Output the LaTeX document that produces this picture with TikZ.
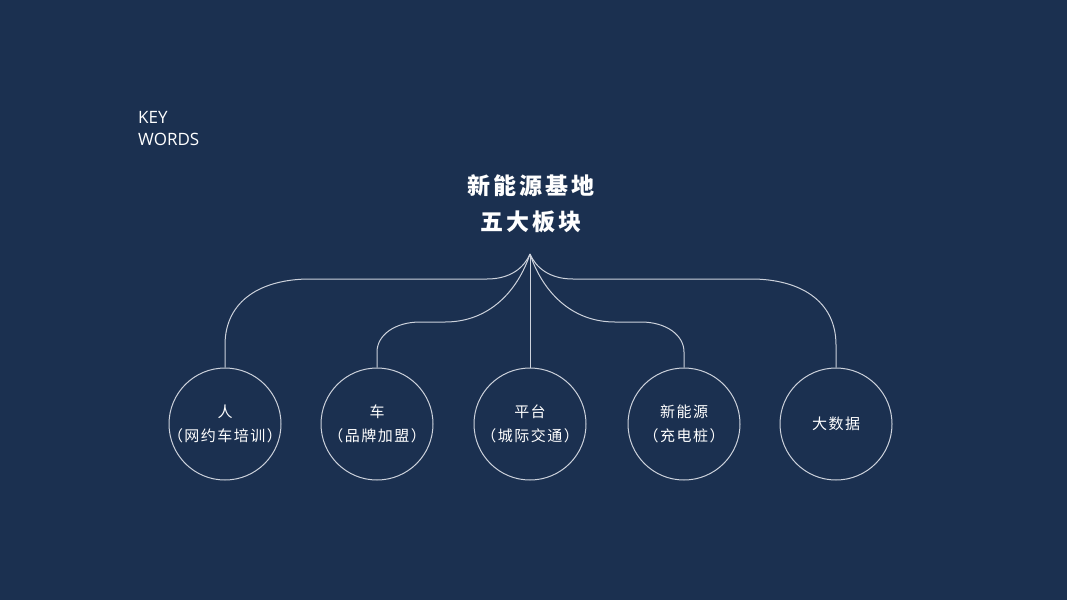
\documentclass[tikz,border=0pt]{standalone}
\usepackage{fontspec}
\setmainfont{Noto Sans CJK SC}
\newfontfamily\latinf{Open Sans}
\newfontfamily\spcf[LetterSpace=10]{Noto Sans CJK SC}
\newfontfamily\spct[LetterSpace=14]{Noto Sans CJK SC}
\definecolor{bgc}{RGB}{27,48,80}
\definecolor{lnc}{RGB}{205,210,220}
\begin{document}
\begin{tikzpicture}[x=1pt,y=-1pt,
  lnk/.style={draw=lnc,line width=1pt},
  circ/.style={circle,draw=lnc,line width=1pt,minimum size=112pt,inner sep=-30pt,text=white,font=\spcf\fontsize{15}{24}\selectfont,align=center},
  ttl/.style={text=white,font=\spct\fontsize{23}{36}\selectfont\bfseries,align=center}]
\fill[bgc] (0,0) rectangle (1067,600);
\useasboundingbox (0,0) rectangle (1067,600);
\node[anchor=north west,text=white,font=\latinf\fontsize{17}{22}\selectfont,align=left,inner sep=0pt] (kw) at (138,111) {KEY\\WORDS};
\node[ttl] (t) at (531,204) {新能源基地\\五大板块};
\coordinate (apex) at (530,254);
\node[circ] (c1) at (225,424) {人\\（网约车培训）};
\node[circ] (c2) at (377,424) {车\\（品牌加盟）};
\node[circ] (c3) at (530,424) {平台\\（城际交通）};
\node[circ] (c4) at (684,424) {新能源\\（充电桩）};
\node[circ] (c5) at (836,424) {大数据};
\draw[lnk] (c1.north) -- (225,345) .. controls (225,300) and (262,279) .. (310,279) -- (487,279) .. controls (510,279) and (524,268) .. (apex);
\draw[lnk] (c2.north) -- (377,352) .. controls (377,335) and (395,322) .. (420,322) -- (445,322) .. controls (490,322) and (518,290) .. (apex);
\draw[lnk] (c3.north) -- (apex);
\draw[lnk] (c4.north) -- (684,352) .. controls (684,335) and (666,322) .. (641,322) -- (615,322) .. controls (570,322) and (542,290) .. (apex);
\draw[lnk] (c5.north) -- (836,345) .. controls (836,300) and (799,279) .. (751,279) -- (573,279) .. controls (550,279) and (536,268) .. (apex);
\end{tikzpicture}
\end{document}
